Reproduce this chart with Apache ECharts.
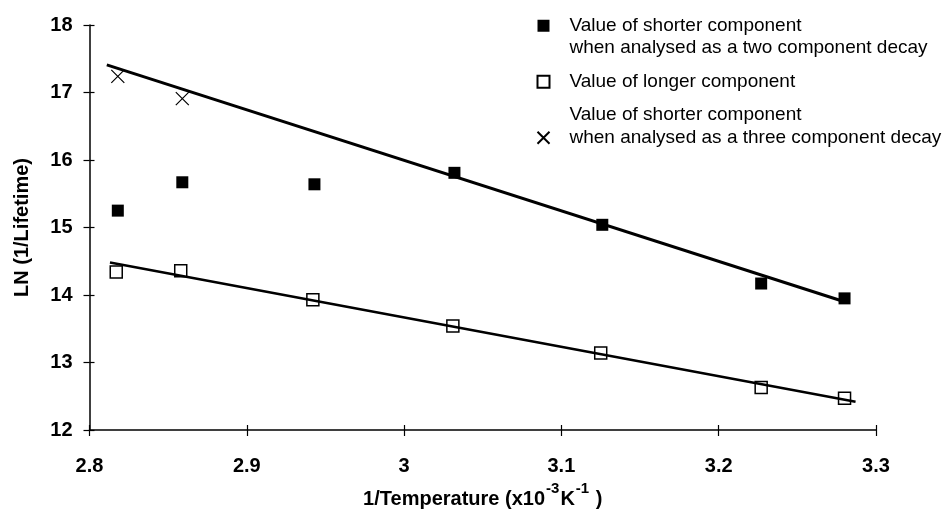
<!DOCTYPE html>
<html>
<head>
<meta charset="utf-8">
<script src="https://cdn.jsdelivr.net/npm/echarts@6/dist/echarts.min.js"></script>
<style>
html,body{margin:0;padding:0;background:#fff;}
#chart{width:947px;height:523px;}
</style>
</head>
<body>
<div id="chart"></div>
<script>
// ---- data ----
const xTicks = [2.8, 2.9, 3.0, 3.1, 3.2, 3.3];
const yTicks = [12, 13, 14, 15, 16, 17, 18];

const twoCompX = [2.818, 2.859, 2.943, 3.032, 3.126, 3.227, 3.280];
const twoCompY = [15.25, 15.67, 15.64, 15.81, 15.04, 14.17, 13.95];

const longX = [2.817, 2.858, 2.942, 3.031, 3.125, 3.227, 3.280];
const longY = [14.34, 14.36, 13.93, 13.54, 13.14, 12.63, 12.47];

const threeCompX = [2.818, 2.859];
const threeCompY = [17.24, 16.91];

const upperFitX = [2.811, 3.280];
const upperFitY = [17.41, 13.90];
const lowerFitX = [2.813, 3.287];
const lowerFitY = [14.48, 12.42];

const legendLines = {
  'Two component': ['', 'Value of shorter component', 'when analysed as a two component decay'],
  'Longer': ['Value of longer component'],
  'Three component': ['Value of shorter component', 'when analysed as a three component decay', '']
};

const xAxisTitle = ['1/Temperature (x10', '-3', 'K', '-1', ' )'];
const yAxisTitle = 'LN (1/Lifetime)';

// ---- build ----
function pairs(xs, ys) { return xs.map((x, i) => [x, ys[i]]); }
const crossPath = 'path://M0,0L10,10M10,0L0,10';
const FONT = '"Liberation Sans", Arial, Helvetica, sans-serif';

const chart = echarts.init(document.getElementById('chart'), null, {renderer: 'canvas'});

const axisCommon = {
  type: 'value',
  splitLine: {show: false}
};

chart.setOption({
  backgroundColor: '#fff',
  animation: false,
  grid: {left: 89.5, right: 71, top: 25, bottom: 93},
  legend: {
    orient: 'vertical',
    left: 530,
    top: -13,
    itemGap: 11,
    itemWidth: 12,
    itemHeight: 12,
    data: ['Two component', 'Longer', 'Three component'],
    formatter: function (name) { return legendLines[name].join('\n'); },
    textStyle: {
      fontFamily: FONT,
      fontSize: 19,
      color: '#000',
      lineHeight: 22.5,
      padding: [0, 0, 0, 15]
    },
    selectedMode: false
  },
  xAxis: [
    Object.assign({}, axisCommon, {
      min: xTicks[0], max: xTicks[xTicks.length - 1], interval: 0.1,
      position: 'bottom',
      axisLine: {show: true, lineStyle: {color: '#000', width: 1.5}},
      axisTick: {show: true, inside: false, length: 6, lineStyle: {color: '#000', width: 1.2}},
      axisLabel: {
        margin: 26, color: '#000', fontFamily: FONT, fontWeight: 'bold', fontSize: 20,
        formatter: function (v) { return String(Math.round(v * 10) / 10); }
      },
      name: '{m|' + xAxisTitle[0] + '}{s|' + xAxisTitle[1] + '}{m|' + xAxisTitle[2] + '}{s|' + xAxisTitle[3] + '}{m|' + xAxisTitle[4] + '}',
      nameLocation: 'middle',
      nameGap: 36,
      nameTextStyle: {
        rich: {
          m: {fontFamily: FONT, fontWeight: 'bold', fontSize: 20, color: '#000', verticalAlign: 'bottom', lineHeight: 34},
          s: {fontFamily: FONT, fontWeight: 'bold', fontSize: 15, color: '#000', verticalAlign: 'bottom', lineHeight: 34, padding: [0, 1, 14, 1]}
        }
      }
    }),
    Object.assign({}, axisCommon, {
      min: xTicks[0], max: xTicks[xTicks.length - 1], interval: 0.1,
      position: 'bottom',
      axisLine: {show: false},
      axisTick: {show: true, inside: true, length: 5, lineStyle: {color: '#000', width: 1.2}},
      axisLabel: {show: false}
    })
  ],
  yAxis: [
    Object.assign({}, axisCommon, {
      min: yTicks[0], max: yTicks[yTicks.length - 1], interval: 1,
      position: 'left',
      axisLine: {show: true, lineStyle: {color: '#000', width: 1.5}},
      axisTick: {show: true, inside: false, length: 6, lineStyle: {color: '#000', width: 1.2}},
      axisLabel: {margin: 17, color: '#000', fontFamily: FONT, fontWeight: 'bold', fontSize: 20},
      name: yAxisTitle,
      nameLocation: 'middle',
      nameGap: 57,
      nameTextStyle: {fontFamily: FONT, fontWeight: 'bold', fontSize: 20, color: '#000'}
    }),
    Object.assign({}, axisCommon, {
      min: yTicks[0], max: yTicks[yTicks.length - 1], interval: 1,
      position: 'left',
      axisLine: {show: false},
      axisTick: {show: true, inside: true, length: 5, lineStyle: {color: '#000', width: 1.2}},
      axisLabel: {show: false}
    })
  ],
  series: [
    {
      name: 'upperFit', type: 'line', data: pairs(upperFitX, upperFitY),
      showSymbol: false, symbol: 'none', lineStyle: {color: '#000', width: 3}, z: 2, silent: true
    },
    {
      name: 'lowerFit', type: 'line', data: pairs(lowerFitX, lowerFitY),
      showSymbol: false, symbol: 'none', lineStyle: {color: '#000', width: 2.5}, z: 2, silent: true
    },
    {
      name: 'Two component', type: 'scatter', data: pairs(twoCompX, twoCompY),
      symbol: 'rect', symbolSize: 12, itemStyle: {color: '#000', opacity: 1}, z: 3
    },
    {
      name: 'Longer', type: 'scatter', data: pairs(longX, longY),
      symbol: 'rect', symbolSize: 12,
      itemStyle: {color: 'rgba(255,255,255,0)', borderColor: '#000', borderWidth: 1.5, opacity: 1}, z: 3
    },
    {
      name: 'Three component', type: 'scatter', data: pairs(threeCompX, threeCompY),
      symbol: crossPath, symbolSize: 13,
      itemStyle: {color: 'none', borderColor: '#000', borderWidth: 1.2, opacity: 1}, z: 3
    }
  ]
});
</script>
</body>
</html>
